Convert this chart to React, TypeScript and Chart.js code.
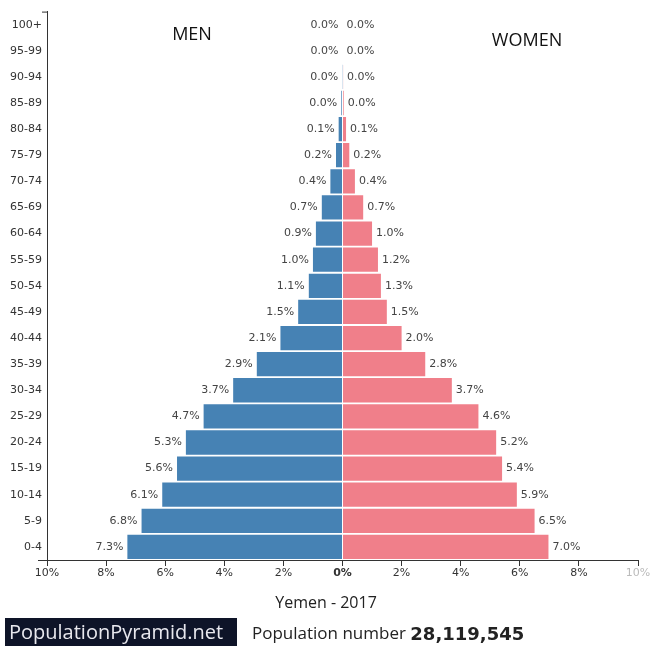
import React, { useEffect, useRef } from "react";
import { Chart, registerables } from "chart.js";

Chart.register(...registerables);

const ageGroups = ["100+", "95-99", "90-94", "85-89", "80-84", "75-79", "70-74", "65-69", "60-64", "55-59", "50-54", "45-49", "40-44", "35-39", "30-34", "25-29", "20-24", "15-19", "10-14", "5-9", "0-4"];
const menValues = [0.0, 0.0, 0.01, 0.04, 0.13, 0.22, 0.41, 0.7, 0.9, 1.0, 1.14, 1.5, 2.1, 2.9, 3.7, 4.7, 5.3, 5.6, 6.1, 6.8, 7.28];
const womenValues = [0.0, 0.0, 0.02, 0.04, 0.12, 0.23, 0.42, 0.7, 1.0, 1.2, 1.3, 1.5, 2.0, 2.8, 3.7, 4.6, 5.2, 5.4, 5.9, 6.5, 6.97];
const xTicks = [-10, -8, -6, -4, -2, 0, 2, 4, 6, 8, 10];
const chartTitle = "Yemen - 2017";
const brand = "PopulationPyramid.net";
const populationLabel = "Population number";
const populationValue = "28,119,545";

const BLUE = "#4682B4";
const PINK = "#F07F8A";
const LABEL_FONT = "DejaVu Sans, sans-serif";
const HEAD_FONT = "'Open Sans', 'Noto Sans', sans-serif";

const overlay = {
  id: "overlay",
  afterDatasetsDraw(chart: any) {
    const ctx = chart.ctx;
    ctx.save();
    ctx.font = `11px ${LABEL_FONT}`;
    ctx.fillStyle = "#444";
    ctx.textBaseline = "middle";
    chart.data.datasets.forEach((ds: any, di: number) => {
      const meta = chart.getDatasetMeta(di);
      meta.data.forEach((el: any, i: number) => {
        const v = Math.abs(ds.data[i]);
        const txt = v.toFixed(1) + "%";
        if (di === 0) {
          ctx.textAlign = "right";
          ctx.fillText(txt, el.x - 4, el.y);
        } else {
          ctx.textAlign = "left";
          ctx.fillText(txt, el.x + 4, el.y);
        }
      });
    });
    ctx.restore();
  },
  afterDraw(chart: any) {
    const ctx = chart.ctx;
    const area = chart.chartArea;
    ctx.save();
    // axis stubs
    ctx.strokeStyle = "#333";
    ctx.lineWidth = 1;
    ctx.beginPath();
    ctx.moveTo(area.left - 5, area.top + 0.5);
    ctx.lineTo(area.left, area.top + 0.5);
    ctx.moveTo(area.left - 9, area.bottom + 0.5);
    ctx.lineTo(area.left, area.bottom + 0.5);
    ctx.stroke();

    // MEN / WOMEN
    ctx.fillStyle = "#111";
    ctx.textAlign = "center";
    ctx.textBaseline = "middle";
    ctx.font = `18px ${HEAD_FONT}`;
    ctx.fillText("MEN", 192, 35);
    ctx.fillText("WOMEN", 527, 41);

    // title
    ctx.font = `16px ${HEAD_FONT}`;
    ctx.fillStyle = "#222";
    ctx.fillText(chartTitle, 326, 603);

    // footer
    ctx.fillStyle = "#0E1428";
    ctx.fillRect(5, 618, 232, 28);
    ctx.fillStyle = "#E8E8EE";
    ctx.textAlign = "left";
    ctx.font = `20px ${HEAD_FONT}`;
    ctx.fillText(brand, 9, 633);

    ctx.fillStyle = "#222";
    ctx.font = `17px ${HEAD_FONT}`;
    ctx.fillText(populationLabel, 252, 634);
    const w = ctx.measureText(populationLabel + " ").width;
    ctx.font = `bold 18px ${LABEL_FONT}`;
    ctx.fillText(populationValue, 252 + w, 635);
    ctx.restore();
  },
};

export default function App() {
  const ref = useRef<HTMLCanvasElement>(null);
  useEffect(() => {
    if (!ref.current) return;
    const chart = new Chart(ref.current, {
      type: "bar",
      data: {
        labels: ageGroups,
        datasets: [
          { label: "Men", data: menValues.map((v) => -v), backgroundColor: BLUE, barPercentage: 0.93, categoryPercentage: 1 },
          { label: "Women", data: womenValues, backgroundColor: PINK, barPercentage: 0.93, categoryPercentage: 1 },
        ],
      },
      options: {
        indexAxis: "y",
        animation: false,
        responsive: false,
        maintainAspectRatio: false,
        layout: { padding: { top: 11, right: 14, left: 0, bottom: 0 } },
        plugins: { legend: { display: false }, tooltip: { enabled: false }, title: { display: false } },
        scales: {
          x: {
            type: "linear",
            stacked: true,
            min: -10,
            max: 10,
            afterBuildTicks: (scale: any) => {
              scale.ticks = xTicks.map((v) => ({ value: v }));
            },
            afterFit: (scale: any) => {
              scale.height = 86;
            },
            grid: { display: true, drawOnChartArea: false, drawTicks: true, tickLength: 6, color: "#333" },
            border: { display: true, color: "#333" },
            ticks: {
              padding: 1,
              font: (c: any) => ({ family: LABEL_FONT, size: 11, weight: c.tick && c.tick.value === 0 ? "bold" : "normal" }),
              color: (c: any) => (c.tick && c.tick.value === 10 ? "#BBBBBB" : "#333"),
              callback: (v: any) => Math.abs(Number(v)) + "%",
              maxRotation: 0,
              autoSkip: false,
            },
          },
          y: {
            stacked: true,
            afterFit: (scale: any) => {
              scale.width = 47;
            },
            grid: { display: false, drawTicks: false },
            border: { display: true, color: "#333" },
            ticks: { padding: 5, font: { family: LABEL_FONT, size: 11 }, color: "#333", autoSkip: false },
          },
        },
      },
      plugins: [overlay],
    } as any);
    return () => chart.destroy();
  }, []);
  return (
    <div style={{ position: "absolute", left: 0, top: 0, width: 652, height: 646, background: "#fff" }}>
      <canvas ref={ref} width={652} height={646} style={{ width: 652, height: 646, display: "block" }} />
    </div>
  );
}
